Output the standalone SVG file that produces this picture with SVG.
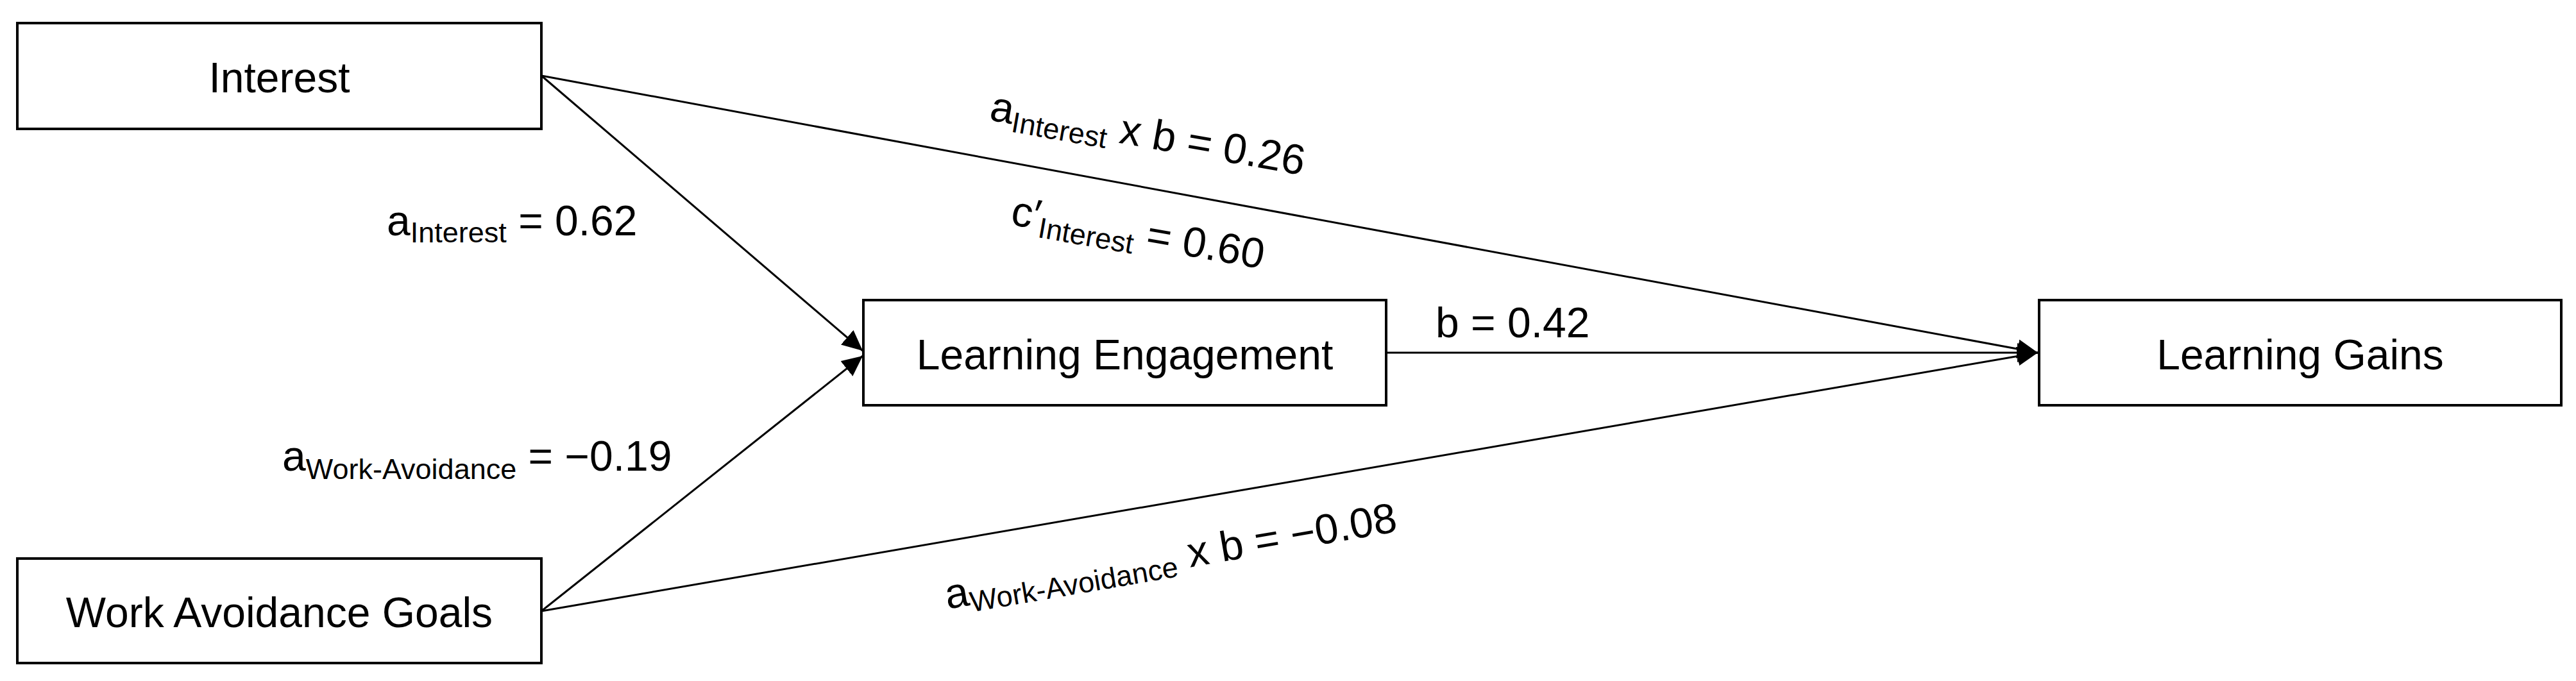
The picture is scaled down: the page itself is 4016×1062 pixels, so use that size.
<svg xmlns="http://www.w3.org/2000/svg" width="4016" height="1062" viewBox="0 0 4016 1062">
<style>
  .box { fill: #ffffff; stroke: #000000; stroke-width: 4; }
  .lbl { font-family: "Liberation Sans", Arial, sans-serif; font-size: 66px; fill: #000000; }
  .node { text-anchor: middle; }
  .sub { font-size: 45px; }
  .edge { stroke: #000000; stroke-width: 3; fill: none; marker-end: url(#arrow); }
</style>
<defs>
  <marker id="arrow" markerUnits="userSpaceOnUse" markerWidth="34" markerHeight="32" refX="32" refY="15" orient="auto">
    <path d="M0,0 L32,15 L0,30 Z" fill="#000000"/>
  </marker>
</defs>
<rect x="0" y="0" width="4016" height="1062" fill="#ffffff"/>
<g id="connectors">
  <line class="edge" x1="844" y1="118" x2="1345" y2="547"/>
  <line class="edge" x1="844" y1="953" x2="1345" y2="555"/>
  <line class="edge" x1="844" y1="118" x2="3177" y2="550"/>
  <line class="edge" x1="844" y1="953" x2="3177" y2="550"/>
  <line class="edge" x1="2161" y1="550" x2="3177" y2="550"/>
</g>
<g id="node-interest">
  <rect class="box" x="27" y="36" width="817" height="165"/>
  <text class="lbl node" x="435.5" y="144">Interest</text>
</g>
<g id="node-work-avoidance">
  <rect class="box" x="27" y="871" width="817" height="163"/>
  <text class="lbl node" x="435.5" y="978">Work Avoidance Goals</text>
</g>
<g id="node-engagement">
  <rect class="box" x="1346" y="468" width="815" height="164"/>
  <text class="lbl node" x="1753.5" y="576">Learning Engagement</text>
</g>
<g id="node-gains">
  <rect class="box" x="3179" y="468" width="814" height="164"/>
  <text class="lbl node" x="3586" y="576">Learning Gains</text>
</g>
<g id="edge-labels">
  <text class="lbl" x="603" y="367">a<tspan class="sub" dy="11">Interest</tspan><tspan dy="-11"> = 0.62</tspan></text>
  <text class="lbl" x="440" y="734">a<tspan class="sub" dy="13">Work-Avoidance</tspan><tspan dy="-13"> = −0.19</tspan></text>
  <text class="lbl" x="2238" y="526">b = 0.42</text>
  <text class="lbl" transform="translate(1541,187) rotate(10)" x="0" y="0">a<tspan class="sub" dy="12">Interest</tspan><tspan dy="-12"> x b = 0.26</tspan></text>
  <text class="lbl" transform="translate(1574,350) rotate(10)" x="0" y="0">c′<tspan class="sub" dy="12">Interest</tspan><tspan dy="-12"> = 0.60</tspan></text>
  <text class="lbl" transform="translate(1477,950) rotate(-9.8)" x="0" y="0">a<tspan class="sub" dy="11">Work-Avoidance</tspan><tspan dy="-11"> x b = −0.08</tspan></text>
</g>
</svg>
